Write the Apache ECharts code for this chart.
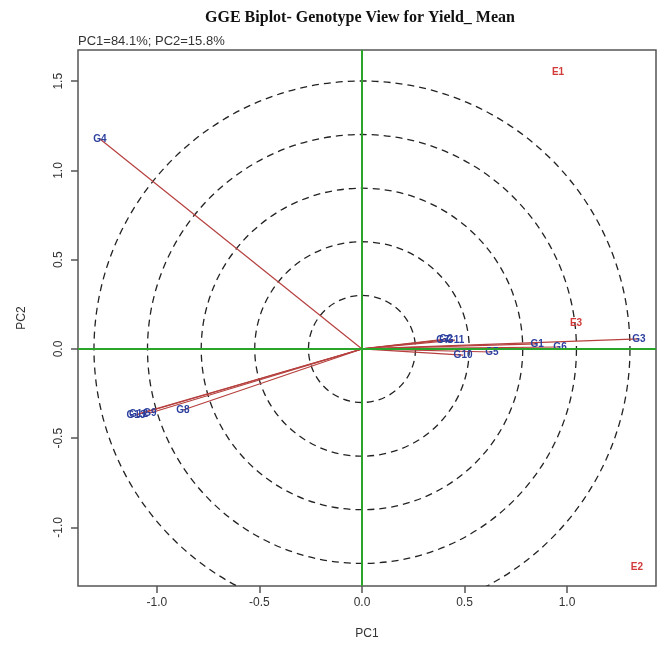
<!DOCTYPE html>
<html>
<head>
<meta charset="utf-8">
<script src="https://cdn.jsdelivr.net/npm/echarts@6/dist/echarts.min.js"></script>
<style>
    html, body { margin: 0; padding: 0; background: #fff; }
    #chart--biplot { width: 666px; height: 656px; }
</style>
</head>
<body>
<div id="chart--biplot"></div>
<script>
;
(() => {
    // genotype scores (PC1, PC2)
    const genotypeNames = ['G1', 'G2', 'G3', 'G4', 'G5', 'G6', 'G7', 'G8', 'G9', 'G10', 'G11', 'G12', 'G13'];
    const genotypePC1 = [0.854, 0.41, 1.351, -1.278, 0.634, 0.966, 0.395, -0.873, -1.034, 0.493, 0.454, -1.09, -1.102];
    const genotypePC2 = [0.028, 0.056, 0.056, 1.176, -0.017, 0.011, 0.05, -0.342, -0.359, -0.034, 0.05, -0.364, -0.37];
    // environment scores
    const environmentNames = ['E1', 'E2', 'E3'];
    const environmentPC1 = [0.956, 1.341, 1.044];
    const environmentPC2 = [1.552, -1.221, 0.146];
    // concentric circle radii (PC1 units)
    const circleRadii = [0.261, 0.523, 0.784, 1.046, 1.307];
    const xTicks = [-1, -0.5, 0, 0.5, 1];
    const yTicks = [-1, -0.5, 0, 0.5, 1, 1.5];

    const chart = echarts.init(document.querySelector('#chart--biplot'));
    const axisFont = 'Liberation Sans, Arial, sans-serif';

    function clipGroup(params, children) {
        const cs = params.coordSys;
        return {
            type: 'group',
            children,
            clipPath: {
                type: 'rect',
                shape: { x: cs.x, y: cs.y, width: cs.width, height: cs.height }
            }
        };
    }

    chart.setOption({
        animation: false,
        title: {
            text: 'GGE Biplot- Genotype View for Yield_ Mean',
            left: 355,
            top: 5,
            textAlign: 'center',
            textStyle: {
                fontFamily: 'Liberation Serif, Times New Roman, serif',
                fontWeight: 'bold',
                fontSize: 16,
                color: '#111'
            }
        },
        graphic: [
            {
                type: 'text',
                left: 78,
                top: 35,
                style: {
                    text: 'PC1=84.1%; PC2=15.8%',
                    font: '13px ' + axisFont,
                    fill: '#333'
                }
            }
        ],
        grid: {
            left: 78,
            right: 10,
            top: 50,
            bottom: 70,
            show: true,
            borderColor: '#555',
            borderWidth: 1.5
        },
        xAxis: {
            type: 'value',
            min: -1.385,
            max: 1.434,
            name: 'PC1',
            nameLocation: 'middle',
            nameGap: 42,
            nameTextStyle: { fontFamily: axisFont, fontSize: 12, color: '#333' },
            axisLine: { show: false, onZero: false },
            splitLine: { show: false },
            axisTick: {
                show: true,
                customValues: xTicks,
                length: 7,
                lineStyle: { color: '#555', width: 1.5 }
            },
            axisLabel: {
                customValues: xTicks,
                margin: 11,
                fontFamily: axisFont,
                fontSize: 12,
                color: '#333',
                formatter: (value) => value.toFixed(1)
            }
        },
        yAxis: {
            type: 'value',
            min: -1.328,
            max: 1.675,
            name: 'PC2',
            nameLocation: 'middle',
            nameGap: 50,
            nameRotate: 90,
            nameTextStyle: { fontFamily: axisFont, fontSize: 12, color: '#333' },
            axisLine: { show: false, onZero: false },
            splitLine: { show: false },
            axisTick: {
                show: true,
                customValues: yTicks,
                length: 7,
                lineStyle: { color: '#555', width: 1.5 }
            },
            axisLabel: {
                customValues: yTicks,
                rotate: 90,
                margin: 13,
                fontFamily: axisFont,
                fontSize: 12,
                color: '#333',
                formatter: (value) => value.toFixed(1)
            }
        },
        series: [
            {
                name: 'circles',
                type: 'custom',
                silent: true,
                data: circleRadii.map((r) => [r]),
                renderItem(params, api) {
                    const center = api.coord([0, 0]);
                    const r = api.size([api.value(0), 0])[0];
                    return clipGroup(params, [{
                        type: 'circle',
                        shape: { cx: center[0], cy: center[1], r },
                        style: { fill: 'none', stroke: '#222', lineWidth: 1.3, lineDash: [7, 5] }
                    }]);
                }
            },
            {
                name: 'axes',
                type: 'line',
                data: [],
                markLine: {
                    silent: true,
                    symbol: 'none',
                    label: { show: false },
                    lineStyle: { color: '#2aa52a', width: 2, type: 'solid' },
                    data: [{ xAxis: 0 }, { yAxis: 0 }]
                }
            },
            {
                name: 'vectors',
                type: 'custom',
                silent: true,
                data: genotypeNames.map((name, i) => [genotypePC1[i], genotypePC2[i]]),
                renderItem(params, api) {
                    const origin = api.coord([0, 0]);
                    const end = api.coord([api.value(0), api.value(1)]);
                    return {
                        type: 'line',
                        shape: { x1: origin[0], y1: origin[1], x2: end[0], y2: end[1] },
                        style: { stroke: '#b5403e', lineWidth: 1.2 }
                    };
                }
            },
            {
                name: 'genotypes',
                type: 'custom',
                silent: true,
                data: genotypeNames.map((name, i) => [genotypePC1[i], genotypePC2[i], name]),
                renderItem(params, api) {
                    const p = api.coord([api.value(0), api.value(1)]);
                    return {
                        type: 'text',
                        x: p[0],
                        y: p[1],
                        style: {
                            text: genotypeNames[params.dataIndex],
                            font: 'bold 10px ' + axisFont,
                            fill: '#2b3f9e',
                            align: 'center',
                            verticalAlign: 'middle'
                        }
                    };
                }
            },
            {
                name: 'environments',
                type: 'custom',
                silent: true,
                data: environmentNames.map((name, i) => [environmentPC1[i], environmentPC2[i]]),
                renderItem(params, api) {
                    const p = api.coord([api.value(0), api.value(1)]);
                    return {
                        type: 'text',
                        x: p[0],
                        y: p[1],
                        style: {
                            text: environmentNames[params.dataIndex],
                            font: 'bold 10px ' + axisFont,
                            fill: '#d23a3a',
                            align: 'center',
                            verticalAlign: 'middle'
                        }
                    };
                }
            }
        ]
    });
})();
</script>
</body>
</html>
